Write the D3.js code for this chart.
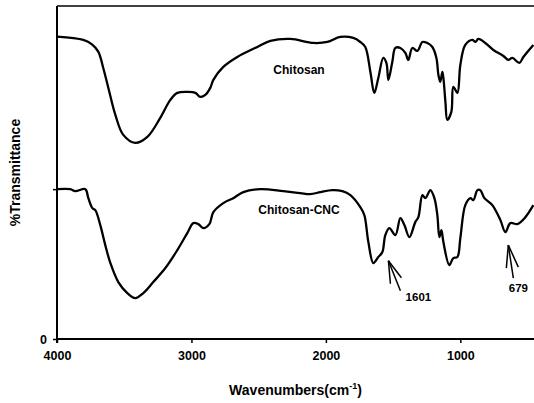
<!DOCTYPE html>
<html>
<head>
<meta charset="utf-8">
<script src="https://cdn.jsdelivr.net/npm/d3@7/dist/d3.min.js"></script>
<style>
body{margin:0;background:#fff;}
svg{display:block;font-family:"Liberation Sans",Arial,sans-serif;}
</style>
</head>
<body>
<svg width="534" height="403"></svg>
<script>
// FTIR spectra, values (wavenumber cm-1, %T in arbitrary units)
const chitosanWn=[4000,3804,3740,3693,3656,3618,3566,3507,3418,3328,3232,3157,3105,3023,2971,2934,2897,2860,2837,2763,2659,2510,2413,2264,2093,1989,1893,1796,1744,1707,1669,1640,1610,1573,1550,1535,1506,1483,1446,1409,1387,1357,1320,1282,1245,1208,1178,1163,1149,1134,1126,1111,1097,1067,1052,1022,1000,963,911,888,866,814,754,680,643,613,561,531,457];
const chitosanT=[90.8,89.8,88.5,86.3,81.4,75.4,67.3,61.3,58.9,60.7,66.4,71.8,73.9,74.2,73.9,72.7,73.3,75.4,77.8,81.7,84.7,87.7,89.5,90.1,88.9,89.2,90.7,90.4,89.2,87.7,80.2,73.9,78.4,84.4,82.9,77.8,83.2,87.4,87.4,85.9,83.8,87.4,86.5,89.2,88.9,87.7,84.4,79.3,77.2,80.2,78.4,71.2,65.8,68.2,75.7,73.9,82.3,88.3,89.8,89.2,90.1,88.9,86.8,85.0,83.8,84.4,82.9,84.7,88.3];

const cncWn=[4000,3901,3864,3789,3767,3737,3715,3678,3641,3603,3544,3477,3418,3358,3284,3194,3105,3031,2986,2949,2912,2867,2837,2763,2689,2614,2488,2317,2190,2116,2041,1952,1878,1818,1744,1714,1684,1647,1610,1580,1558,1528,1483,1446,1416,1379,1335,1312,1282,1260,1223,1193,1171,1156,1141,1126,1082,1052,1022,1000,963,925,903,873,851,821,762,702,665,628,576,516,457];
const cncT=[45.0,45.0,44.4,45.0,42.3,39.3,38.7,34.2,28.2,22.8,17.1,13.8,12.3,13.8,17.1,21.3,26.7,31.8,34.8,34.5,33.3,34.5,38.1,40.8,42.3,44.1,45.0,44.4,43.8,43.5,44.1,44.7,44.4,43.2,39.6,37.2,29.1,22.8,24.6,26.1,31.2,33.3,31.2,36.3,34.2,30.6,35.1,36.6,43.2,42.3,44.7,42.3,37.2,30.6,32.7,29.1,22.2,24.3,24.6,30.3,40.2,42.3,41.7,44.7,44.7,42.3,40.2,35.7,32.1,34.8,34.5,36.6,40.2];

const xTicks=[4000,3000,2000,1000];
const seriesNames=["Chitosan","Chitosan-CNC"];
const labelWn=[2200,2200], labelT=[79.5,37.5];
const peakNames=["1601","679"];
const peakWn=[1535,643], peakT=[23.5,28.2];

const svg=d3.select("svg");
const m={left:57,top:6,right:534,bottom:339};
const x=d3.scaleLinear().domain([4000,400]).range([m.left,541]);
const y=d3.scaleLinear().domain([0,100]).range([m.bottom,m.top]);

// frame: top border
svg.append("line").attr("x1",m.left).attr("x2",m.right).attr("y1",m.top).attr("y2",m.top)
   .attr("stroke","#000").attr("stroke-width",1.5);

// x axis
const gx=svg.append("g").attr("transform","translate(0,"+m.bottom+")")
   .call(d3.axisBottom(x).tickValues(xTicks).tickSize(4).tickPadding(8).tickFormat(d3.format("d")));
gx.select(".domain").remove();
gx.append("line").attr("x1",m.left).attr("x2",m.right).attr("stroke","#000").attr("stroke-width",2);
gx.selectAll(".tick line").attr("stroke-width",1.5);
gx.selectAll("text").attr("font-size",12.5).attr("font-weight","bold").attr("fill","#000")
   .attr("font-family","Liberation Sans, Arial, sans-serif");

// y axis
const gy=svg.append("g").attr("transform","translate("+m.left+",0)")
   .call(d3.axisLeft(y).tickValues([0,45]).tickSize(4).tickPadding(6).tickFormat(d=>d===0?"0":""));
gy.select(".domain").remove();
gy.append("line").attr("y1",m.top).attr("y2",m.bottom+4).attr("stroke","#000").attr("stroke-width",2);
gy.selectAll(".tick line").attr("stroke-width",1.5);
gy.selectAll("text").attr("font-size",12.5).attr("font-weight","bold").attr("fill","#000")
   .attr("font-family","Liberation Sans, Arial, sans-serif");

// spectra
const line=d3.line().x(d=>x(d[0])).y(d=>y(d[1])).curve(d3.curveCatmullRom.alpha(0.5));
const series=[d3.zip(chitosanWn,chitosanT),d3.zip(cncWn,cncT)];
svg.append("defs").append("clipPath").attr("id","plot").append("rect")
   .attr("x",m.left).attr("y",m.top).attr("width",m.right-m.left).attr("height",m.bottom-m.top);
svg.append("g").attr("clip-path","url(#plot)").selectAll("path").data(series).enter().append("path")
   .attr("d",line).attr("fill","none").attr("stroke","#000").attr("stroke-width",2.3)
   .attr("stroke-linejoin","round");

// series labels
svg.selectAll(".slabel").data(seriesNames).enter().append("text").attr("class","slabel")
   .attr("x",(d,i)=>x(labelWn[i])).attr("y",(d,i)=>y(labelT[i]))
   .attr("text-anchor","middle").attr("font-size",12).attr("font-weight","bold").text(d=>d);

// peak arrows
const arrowShaft=[[12,30],[5,33]], arrowHeads=[[[2,23],[13,17]],[[-2,23],[10,22]]];
const labelOff=[[30,40],[10,47]];
peakNames.forEach((p,i)=>{
  const tx=x(peakWn[i]), ty=y(peakT[i]);
  const g=svg.append("g").attr("stroke","#000").attr("stroke-width",1.5);
  g.append("line").attr("x1",tx).attr("y1",ty).attr("x2",tx+arrowShaft[i][0]).attr("y2",ty+arrowShaft[i][1]);
  arrowHeads[i].forEach(h=>g.append("line").attr("x1",tx).attr("y1",ty).attr("x2",tx+h[0]).attr("y2",ty+h[1]));
  svg.append("text").attr("x",tx+labelOff[i][0]).attr("y",ty+labelOff[i][1]).attr("text-anchor","middle")
     .attr("font-size",11.5).attr("font-weight","bold").text(p);
});

// axis titles
const xt=svg.append("text").attr("x",(m.left+m.right)/2).attr("y",395).attr("text-anchor","middle")
   .attr("font-size",14).attr("font-weight","bold").text("Wavenumbers(cm");
xt.append("tspan").attr("font-size",9).attr("dy",-6).text("-1");
xt.append("tspan").attr("dy",6).text(")");
svg.append("text").attr("transform","translate(20,"+((m.top+m.bottom)/2)+") rotate(-90)")
   .attr("text-anchor","middle").attr("font-size",14).attr("font-weight","bold").text("%Transmittance");
</script>
</body>
</html>
